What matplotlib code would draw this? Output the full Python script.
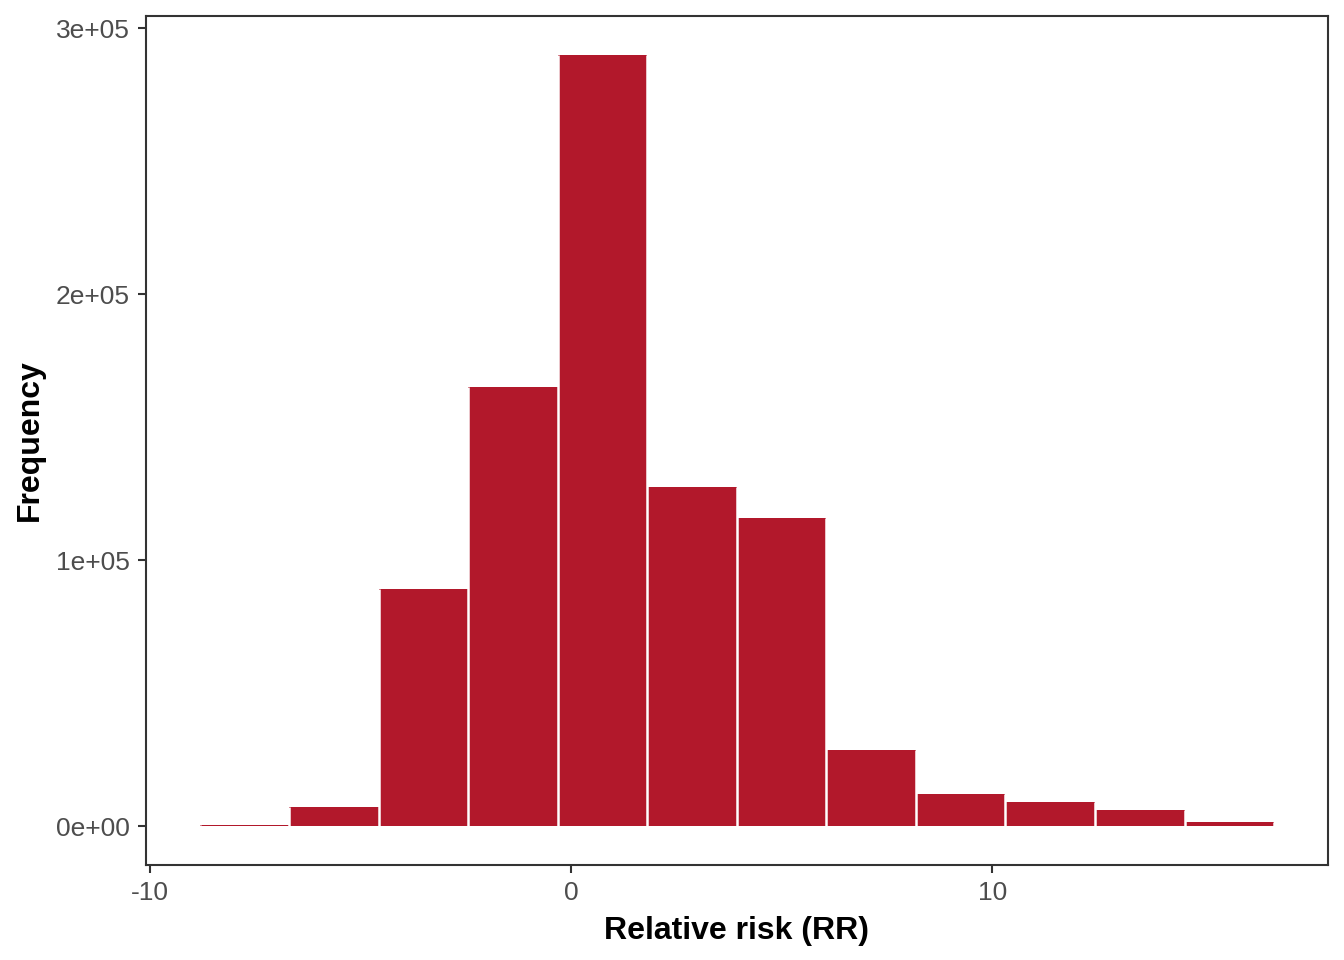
import numpy as np
import matplotlib
matplotlib.use("Agg")
import matplotlib.pyplot as plt

# histogram of relative risk values (bin edges and counts)
bin_edges = [-8.81, -6.69, -4.56, -2.44, -0.31, 1.81, 3.94, 6.06, 8.19, 10.31, 12.44, 14.56, 16.69]
counts = [700, 7300, 89100, 165100, 290000, 127500, 115800, 28600, 12000, 9000, 6000, 1600]

x_ticks = [-10, 0, 10]
y_ticks = [0, 100000, 200000, 300000]
y_tick_labels = ["0e+00", "1e+05", "2e+05", "3e+05"]

plt.rcParams["font.family"] = ["Liberation Sans", "DejaVu Sans"]

fig = plt.figure(figsize=(13.44, 9.6), dpi=100)
ax = fig.add_axes([0.1086, 0.099, 0.8795, 0.8843])

edges = np.array(bin_edges)
cnt = np.array(counts)
ax.bar(edges[:-1], cnt, width=np.diff(edges), align="edge",
       color="#B2182B", linewidth=0)

# white separators between bars (drawn as vlines so tiny bars stay visible)
padded = np.concatenate([[0], cnt, [0]])
sep_h = np.maximum(padded[:-1], padded[1:])
ax.vlines(edges, 0, sep_h, color="white", linewidth=1.8)

# ggplot-like 5% expansion
xr = edges[-1] - edges[0]
ax.set_xlim(edges[0] - 0.05 * xr, edges[-1] + 0.05 * xr)
ymax = cnt.max()
ax.set_ylim(-0.05 * ymax, ymax * 1.05)

ax.set_xticks(x_ticks)
ax.set_xticklabels([str(t) for t in x_ticks])
ax.set_yticks(y_ticks)
ax.set_yticklabels(y_tick_labels)

for s in ax.spines.values():
    s.set_color("#333333")
    s.set_linewidth(1.5)
ax.tick_params(axis="both", length=5.5, width=1.5, color="#333333",
               labelcolor="#4D4D4D", labelsize=19, pad=6)

ax.set_xlabel("Relative risk (RR)", fontsize=23, fontweight="bold", labelpad=8)
ax.set_ylabel("Frequency", fontsize=23, fontweight="bold", labelpad=8)

fig.savefig("out.png", dpi=100)
